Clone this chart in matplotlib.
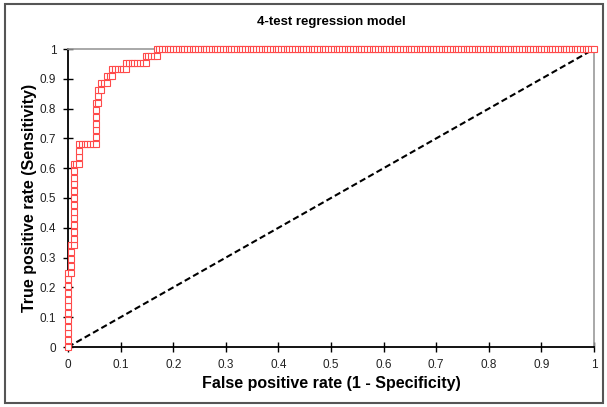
import numpy as np
import matplotlib.pyplot as plt
from matplotlib.patches import Rectangle

# ROC staircase corners, in counts: false positives (of n_neg) and true positives (of n_pos)
n_neg = 190
n_pos = 44
corner_fp = [0, 0, 1, 1, 2, 2, 4, 4, 10, 10, 11, 11, 12, 12, 14, 14, 16, 16, 21, 21, 28, 28, 32, 32, 190]
corner_tp = [0, 11, 11, 15, 15, 27, 27, 30, 30, 36, 36, 38, 38, 39, 39, 40, 40, 41, 41, 42, 42, 43, 43, 44, 44]

diag = [0, 1]
ticks = [0, 0.1, 0.2, 0.3, 0.4, 0.5, 0.6, 0.7, 0.8, 0.9, 1]
tick_labels = ["0", "0.1", "0.2", "0.3", "0.4", "0.5", "0.6", "0.7", "0.8", "0.9", "1"]

# one point per threshold step along the staircase
fp, tp = [corner_fp[0]], [corner_tp[0]]
for i in range(1, len(corner_fp)):
    while fp[-1] < corner_fp[i]:
        fp.append(fp[-1] + 1); tp.append(tp[-1])
    while tp[-1] < corner_tp[i]:
        tp.append(tp[-1] + 1); fp.append(fp[-1])
fpr = np.array(fp) / n_neg
tpr = np.array(tp) / n_pos

plt.rcParams['font.family'] = ['Liberation Sans', 'DejaVu Sans']

fig = plt.figure(figsize=(6.07, 4.07), dpi=100)
ax = fig.add_axes([68/607, 1 - 347/407, (594-68)/607, (347-49)/407])

ax.plot(diag, diag, "k--", lw=1.5, dashes=(3, 1.6), zorder=2)
ax.plot(fpr, tpr, "-", color="#ff3b3b", lw=0.8, marker="s", ms=3.7,
        mfc="white", mec="#ff4a4a", mew=0.8, zorder=3, clip_on=False)

ax.set_xlim(0, 1)
ax.set_ylim(0, 1)
ax.set_xticks(ticks)
ax.set_xticklabels(tick_labels)
ax.set_yticks(ticks)
ax.set_yticklabels(tick_labels)
ax.tick_params(direction="inout", length=7, width=1, labelsize=8.5, labelcolor="#222222", pad=5)

for s in ["left", "bottom"]:
    ax.spines[s].set_linewidth(1.3)
    ax.spines[s].set_color("black")
for s in ["top", "right"]:
    ax.spines[s].set_linewidth(1.2)
    ax.spines[s].set_color("#999999")

ax.set_xlabel("False positive rate (1 - Specificity)", fontsize=11.5, fontweight="bold", labelpad=4)
ax.set_ylabel("True positive rate (Sensitivity)", fontsize=11.5, fontweight="bold", labelpad=2)
fig.text(331/607, 1 - 22/407, "4-test regression model", fontsize=9.5, fontweight="bold",
         ha="center", va="center")

fig.patches.append(Rectangle((5/607, 4/407), 598/607, 399/407, transform=fig.transFigure,
                             fill=False, edgecolor="#555555", lw=1.5))

fig.savefig("out.png", dpi=100)
